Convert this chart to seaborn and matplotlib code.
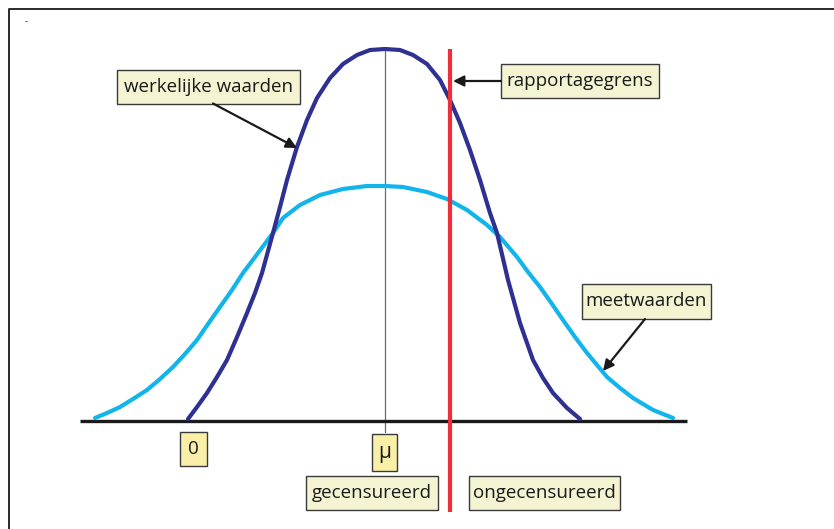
import matplotlib
matplotlib.use("Agg")
import matplotlib.pyplot as plt
import seaborn as sns
from matplotlib.patches import Rectangle

# --- DATA (heights above the baseline) ---
werkelijk_x = [188, 197, 207, 217, 227, 237, 247, 255, 262, 273, 280, 287,
               297, 307, 317, 330, 343, 357, 370, 385, 400, 413, 427, 440,
               450, 460, 470, 480, 490, 497, 508, 520, 533, 543, 553, 567, 580]
werkelijk_h = [2, 14, 28, 44, 61, 84, 108, 128, 148, 188, 214, 241,
               274, 301, 323, 343, 357, 366, 371, 372, 371, 366, 357, 341,
               321, 298, 271, 241, 208, 188, 141, 98, 61, 43, 28, 13, 2]

meet_x = [95, 107, 120, 133, 147, 160, 173, 185, 197, 208, 220, 232, 243,
          258, 273, 283, 300, 320, 343, 367, 385, 403, 427, 447, 467, 487,
          500, 517, 528, 540, 552, 563, 575, 587, 597, 607, 620, 633, 653, 673]
meet_h = [3, 8, 14, 22, 31, 42, 54, 67, 81, 97, 114, 131, 148,
          168, 188, 203, 216, 226, 232, 235, 235, 234, 229, 222, 211, 196,
          184, 164, 149, 134, 117, 101, 84, 68, 56, 44, 33, 23, 11, 3]

MU_X = 385
GRENS_X = 450
BASE_X = [80, 687]

labels = {
    "werkelijk": "werkelijke waarden",
    "grens": "rapportagegrens",
    "meet": "meetwaarden",
    "nul": "0",
    "mu": "\u03bc",
    "gec": "gecensureerd",
    "ongec": "ongecensureerd",
}

# --- STYLE ---
DARK_BLUE = "#2E3192"
LIGHT_BLUE = "#12B4EC"
RED = "#EE2E38"
CREAM = "#F4F3D2"
YELLOW = "#F9EFA8"
BASE_Y = 421  # pixel row of the baseline


def px(x, y):
    """pixel position -> data position (baseline at 0)."""
    return x, BASE_Y - y


def box(ax, x0, y0, x1, y1, text, fc, fs=13.5):
    bx, by = px(x0, y1)
    ax.add_patch(Rectangle((bx, by), x1 - x0, y1 - y0, facecolor=fc,
                           edgecolor="#3a3a3a", linewidth=1.0, zorder=5))
    cx, cy = px((x0 + x1) / 2, (y0 + y1) / 2)
    ax.text(cx, cy, text, ha="center", va="center", fontsize=fs,
            color="#1a1a1a", zorder=6)


def arrow(ax, start, end):
    ax.annotate("", xy=px(*end), xytext=px(*start),
                arrowprops=dict(arrowstyle="-|>", color="#1a1a1a", lw=1.6,
                                mutation_scale=16, shrinkA=0, shrinkB=0),
                zorder=7)


def main():
    sns.set_style("white")
    plt.rcParams["font.family"] = ["Open Sans", "DejaVu Sans"]

    fig = plt.figure(figsize=(8.34, 5.29), dpi=100)
    ax = fig.add_axes([0, 0, 1, 1])
    ax.set_xlim(0, 834)
    ax.set_ylim(BASE_Y - 529, BASE_Y)
    ax.axis("off")

    # frame (left and top edges only)
    ax.plot([9, 9, 834], [BASE_Y - 529, BASE_Y - 9, BASE_Y - 9],
            color="#1a1a1a", lw=1.3, solid_capstyle="butt")
    ax.text(*px(26, 22), "-", fontsize=7, ha="center", va="center")

    # mu line
    ax.plot([MU_X, MU_X], [max(werkelijk_h), BASE_Y - 432],
            color="#6b6b6b", lw=0.9, zorder=1)

    # curves
    sns.lineplot(x=meet_x, y=meet_h, ax=ax, color=LIGHT_BLUE, linewidth=3.0,
                 zorder=3)
    sns.lineplot(x=werkelijk_x, y=werkelijk_h, ax=ax, color=DARK_BLUE,
                 linewidth=3.0, zorder=3)

    # baseline
    ax.plot(BASE_X, [0, 0], color="#1a1a1a", lw=2.4, zorder=2,
            solid_capstyle="butt")

    # reporting limit
    ax.plot([GRENS_X, GRENS_X], [BASE_Y - 49, BASE_Y - 512], color=RED,
            lw=3.0, zorder=4, solid_capstyle="butt")

    # labels
    box(ax, 117, 69.5, 300, 103.5, labels["werkelijk"], CREAM)
    arrow(ax, (213, 103.5), (297, 148))

    box(ax, 501, 63.5, 659, 98, labels["grens"], CREAM)
    arrow(ax, (501, 81), (453, 81))

    box(ax, 582, 284, 711, 319, labels["meet"], CREAM)
    arrow(ax, (645, 319), (603, 371))

    box(ax, 180, 432, 207, 466, labels["nul"], YELLOW)
    box(ax, 372, 434, 397, 471, labels["mu"], YELLOW, fs=15)
    box(ax, 306, 476, 438, 510, labels["gec"], CREAM)
    box(ax, 469, 476, 620, 510, labels["ongec"], CREAM)

    fig.savefig("out.png", dpi=100)
    plt.close(fig)


if __name__ == "__main__":
    main()
